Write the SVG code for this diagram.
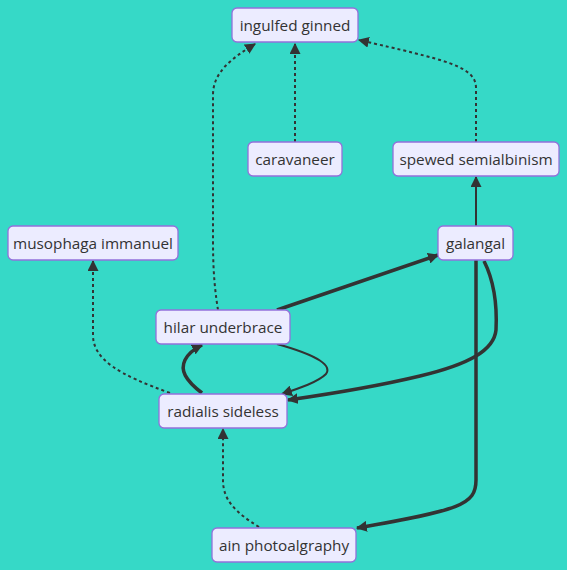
<svg xmlns="http://www.w3.org/2000/svg" width="567" height="570" viewBox="0 0 567 570">
<style>
.node rect{fill:#ECECFF;stroke:#9370DB;stroke-width:1.3}
.node text{font-family:"Open Sans","Noto Sans",sans-serif;font-size:15.3px;fill:#333;text-anchor:middle;dominant-baseline:central}
.e{fill:none;stroke:#333;stroke-width:2}
.d{stroke-dasharray:3 3}
.t{stroke-width:3.5}
</style>
<defs>
<marker id="a" viewBox="0 0 10 10" refX="9" refY="5" markerWidth="11" markerHeight="11" markerUnits="userSpaceOnUse" orient="auto"><path d="M0,0L10,5L0,10z" fill="#333"/></marker>
</defs>
<rect width="567" height="570" fill="#36d9c7"/>
<g id="connectors">
<path class="e d" d="M218,310 C214,285 213,265 213,240 L213,95 C213,72 232,58 255,44" marker-end="url(#a)"/>
<path class="e d" d="M295,142 L295,44" marker-end="url(#a)"/>
<path class="e d" d="M476,142 L476,88 C476,66 445,60 359,40" marker-end="url(#a)"/>
<path class="e" d="M476,226 L476,177" marker-end="url(#a)"/>
<path class="e t" d="M277,310 L438,255" marker-end="url(#a)"/>
<path class="e" d="M277,344 C320,356 332,366 326,374 C318,382 300,388 282,394" marker-end="url(#a)"/>
<path class="e t" d="M484,261 C496,285 497,310 496,330 C494,350 470,364 420,376 C370,388 330,394 288,400" marker-end="url(#a)"/>
<path class="e t" d="M202,393 C185,380 180,370 185,360 C189,352 196,348 202,345" marker-end="url(#a)"/>
<path class="e d" d="M170,393 C120,375 93,360 93,335 L93,261" marker-end="url(#a)"/>
<path class="e d" d="M259,527 C235,512 223,500 223,480 L223,429" marker-end="url(#a)"/>
<path class="e t" d="M476,260 L476,480 C476,505 460,510 357,528" marker-end="url(#a)"/>
</g>
<g id="ingulfed-ginned" class="node"><rect x="232" y="8" width="126" height="34" rx="5"/><text x="295" y="25">ingulfed ginned</text></g>
<g id="caravaneer" class="node"><rect x="248" y="142" width="94" height="34" rx="5"/><text x="295" y="159">caravaneer</text></g>
<g id="spewed-semialbinism" class="node"><rect x="393" y="142" width="166" height="34" rx="5"/><text x="476" y="159">spewed semialbinism</text></g>
<g id="musophaga-immanuel" class="node"><rect x="8" y="226" width="170" height="34" rx="5"/><text x="93" y="243">musophaga immanuel</text></g>
<g id="galangal" class="node"><rect x="438" y="226" width="75" height="34" rx="5"/><text x="475.5" y="243">galangal</text></g>
<g id="hilar-underbrace" class="node"><rect x="156" y="310" width="134" height="34" rx="5"/><text x="223" y="327">hilar underbrace</text></g>
<g id="radialis-sideless" class="node"><rect x="159" y="394" width="128" height="34" rx="5"/><text x="223" y="411">radialis sideless</text></g>
<g id="ain-photoalgraphy" class="node"><rect x="212" y="528" width="144" height="34" rx="5"/><text x="284" y="545">ain photoalgraphy</text></g>
</svg>
